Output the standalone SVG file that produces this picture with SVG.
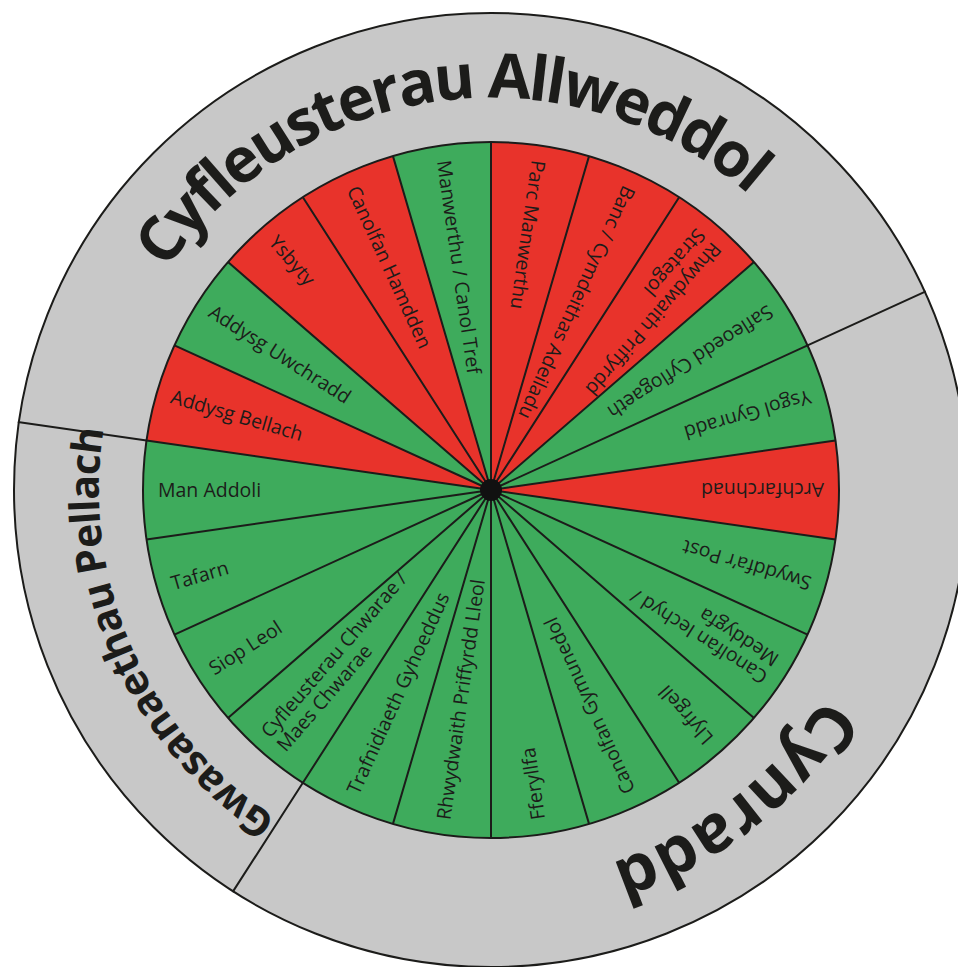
<svg xmlns="http://www.w3.org/2000/svg" width="958" height="967" viewBox="0 0 958 967">
<style>
.r{fill:#e8332b}
.g{fill:#3eab5c}
.lbl{font-family:'Open Sans','Liberation Sans',sans-serif;font-size:19.5px;fill:#1c1c1a}
.hdr{font-family:'Open Sans','Liberation Sans',sans-serif;font-weight:700;fill:#1c1c1a}
.ln{stroke:#1c1c1a;stroke-width:2;fill:none}
</style>
<defs>
<path id="arcTop" d="M101.52,534.37 A392,392 0 0 1 878.70,432.06"/>
<path id="arcCyn" d="M804.07,254.09 A392,392 0 0 1 186.36,736.69"/>
<path id="arcGwa" d="M644.17,850.84 A392,392 0 0 1 325.33,134.73"/>
</defs>
<rect width="958" height="967" fill="#ffffff"/>
<circle id="ring" cx="491" cy="490" r="477" fill="#c8c8c8" stroke="#1c1c1a" stroke-width="2"/>
<g id="section-labels">
<text id="lbl-allweddol" class="hdr" font-size="62" letter-spacing="-2.6"><textPath href="#arcTop" startOffset="50%" text-anchor="middle">Cyfleusterau Allweddol</textPath></text>
<text id="lbl-cynradd" class="hdr" font-size="66"><textPath href="#arcCyn" startOffset="50%" text-anchor="middle">Cynradd</textPath></text>
<text id="lbl-pellach" class="hdr" font-size="41" letter-spacing="-0.8"><textPath href="#arcGwa" startOffset="50%" text-anchor="middle">Gwasanaethau Pellach</textPath></text>
</g>
<g id="segments">
<g id="seg-parc-manwerthu"><path class="r" d="M491,490 L491,142 A348,348 0 0 1 589.04,156.10 Z"/><text class="lbl" x="158" y="490" dy="0.35em" transform="rotate(98.18 491 490)">Parc Manwerthu</text></g>
<g id="seg-banc"><path class="r" d="M491,490 L589.04,156.10 A348,348 0 0 1 679.14,197.24 Z"/><text class="lbl" x="158" y="490" dy="0.35em" transform="rotate(114.55 491 490)">Banc / Cymdeithas Adeiladu</text></g>
<g id="seg-priffyrdd-strategol"><path class="r" d="M491,490 L679.14,197.24 A348,348 0 0 1 754.00,262.11 Z"/><text class="lbl" transform="rotate(130.91 491 490)"><tspan x="158" y="486">Rhwydwaith Priffyrdd</tspan><tspan x="158" y="507">Strategol</tspan></text></g>
<g id="seg-safleoedd"><path class="g" d="M491,490 L754.00,262.11 A348,348 0 0 1 807.55,345.44 Z"/><text class="lbl" x="158" y="490" dy="0.35em" transform="rotate(147.27 491 490)">Safleoedd Cyflogaeth</text></g>
<g id="seg-ysgol-gynradd"><path class="g" d="M491,490 L807.55,345.44 A348,348 0 0 1 835.46,440.47 Z"/><text class="lbl" x="158" y="490" dy="0.35em" transform="rotate(163.64 491 490)">Ysgol Gynradd</text></g>
<g id="seg-archfarchnad"><path class="r" d="M491,490 L835.46,440.47 A348,348 0 0 1 835.46,539.53 Z"/><text class="lbl" x="158" y="490" dy="0.35em" transform="rotate(180 491 490)">Archfarchnad</text></g>
<g id="seg-swyddfa"><path class="g" d="M491,490 L835.46,539.53 A348,348 0 0 1 807.55,634.56 Z"/><text class="lbl" x="158" y="490" dy="0.35em" transform="rotate(196.36 491 490)">Swyddfa’r Post</text></g>
<g id="seg-canolfan-iechyd"><path class="g" d="M491,490 L807.55,634.56 A348,348 0 0 1 754.00,717.89 Z"/><text class="lbl" transform="rotate(212.73 491 490)"><tspan x="158" y="486">Canolfan Iechyd /</tspan><tspan x="158" y="507">Meddygfa</tspan></text></g>
<g id="seg-llyfrgell"><path class="g" d="M491,490 L754.00,717.89 A348,348 0 0 1 679.14,782.76 Z"/><text class="lbl" x="158" y="490" dy="0.35em" transform="rotate(229.09 491 490)">Llyfrgell</text></g>
<g id="seg-canolfan-gymunedol"><path class="g" d="M491,490 L679.14,782.76 A348,348 0 0 1 589.04,823.90 Z"/><text class="lbl" x="158" y="490" dy="0.35em" transform="rotate(245.45 491 490)">Canolfan Gymunedol</text></g>
<g id="seg-fferyllfa"><path class="g" d="M491,490 L589.04,823.90 A348,348 0 0 1 491,838 Z"/><text class="lbl" x="158" y="490" dy="0.35em" transform="rotate(261.82 491 490)">Fferyllfa</text></g>
<g id="seg-priffyrdd-lleol"><path class="g" d="M491,490 L491,838 A348,348 0 0 1 392.96,823.90 Z"/><text class="lbl" x="158" y="490" dy="0.35em" transform="rotate(278.18 491 490)">Rhwydwaith Priffyrdd Lleol</text></g>
<g id="seg-trafnidiaeth"><path class="g" d="M491,490 L392.96,823.90 A348,348 0 0 1 302.86,782.76 Z"/><text class="lbl" x="158" y="490" dy="0.35em" transform="rotate(294.55 491 490)">Trafnidiaeth Gyhoeddus</text></g>
<g id="seg-cyfleusterau-chwarae"><path class="g" d="M491,490 L302.86,782.76 A348,348 0 0 1 228.00,717.89 Z"/><text class="lbl" transform="rotate(310.91 491 490)"><tspan x="158" y="486">Cyfleusterau Chwarae /</tspan><tspan x="158" y="507">Maes Chwarae</tspan></text></g>
<g id="seg-siop-leol"><path class="g" d="M491,490 L228.00,717.89 A348,348 0 0 1 174.45,634.56 Z"/><text class="lbl" x="158" y="490" dy="0.35em" transform="rotate(327.27 491 490)">Siop Leol</text></g>
<g id="seg-tafarn"><path class="g" d="M491,490 L174.45,634.56 A348,348 0 0 1 146.54,539.53 Z"/><text class="lbl" x="158" y="490" dy="0.35em" transform="rotate(343.64 491 490)">Tafarn</text></g>
<g id="seg-man-addoli"><path class="g" d="M491,490 L146.54,539.53 A348,348 0 0 1 146.54,440.47 Z"/><text class="lbl" x="158" y="490" dy="0.35em">Man Addoli</text></g>
<g id="seg-addysg-bellach"><path class="r" d="M491,490 L146.54,440.47 A348,348 0 0 1 174.45,345.44 Z"/><text class="lbl" x="158" y="490" dy="0.35em" transform="rotate(16.36 491 490)">Addysg Bellach</text></g>
<g id="seg-addysg-uwchradd"><path class="g" d="M491,490 L174.45,345.44 A348,348 0 0 1 228.00,262.11 Z"/><text class="lbl" x="158" y="490" dy="0.35em" transform="rotate(32.73 491 490)">Addysg Uwchradd</text></g>
<g id="seg-ysbyty"><path class="r" d="M491,490 L228.00,262.11 A348,348 0 0 1 302.86,197.24 Z"/><text class="lbl" x="158" y="490" dy="0.35em" transform="rotate(49.09 491 490)">Ysbyty</text></g>
<g id="seg-canolfan-hamdden"><path class="r" d="M491,490 L302.86,197.24 A348,348 0 0 1 392.96,156.10 Z"/><text class="lbl" x="158" y="490" dy="0.35em" transform="rotate(65.45 491 490)">Canolfan Hamdden</text></g>
<g id="seg-manwerthu-canol-tref"><path class="g" d="M491,490 L392.96,156.10 A348,348 0 0 1 491,142 Z"/><text class="lbl" x="158" y="490" dy="0.35em" transform="rotate(81.82 491 490)">Manwerthu / Canol Tref</text></g>
</g>
<g id="connectors">
<circle class="ln" cx="491" cy="490" r="348"/>
<path class="ln" d="M491,490 L491,142 M491,490 L589.04,156.10 M491,490 L679.14,197.24 M491,490 L754.00,262.11 M491,490 L807.55,345.44 M491,490 L835.46,440.47 M491,490 L835.46,539.53 M491,490 L807.55,634.56 M491,490 L754.00,717.89 M491,490 L679.14,782.76 M491,490 L589.04,823.90 M491,490 L491,838 M491,490 L392.96,823.90 M491,490 L302.86,782.76 M491,490 L228.00,717.89 M491,490 L174.45,634.56 M491,490 L146.54,539.53 M491,490 L146.54,440.47 M491,490 L174.45,345.44 M491,490 L228.00,262.11 M491,490 L302.86,197.24 M491,490 L392.96,156.10"/>
<path class="ln" d="M807.55,345.44 L925.80,291.43 M302.86,782.76 L232.57,892.12 M146.54,440.47 L17.86,421.97"/>
</g>
<circle id="hub" cx="491" cy="490" r="11" fill="#111111"/>
</svg>
